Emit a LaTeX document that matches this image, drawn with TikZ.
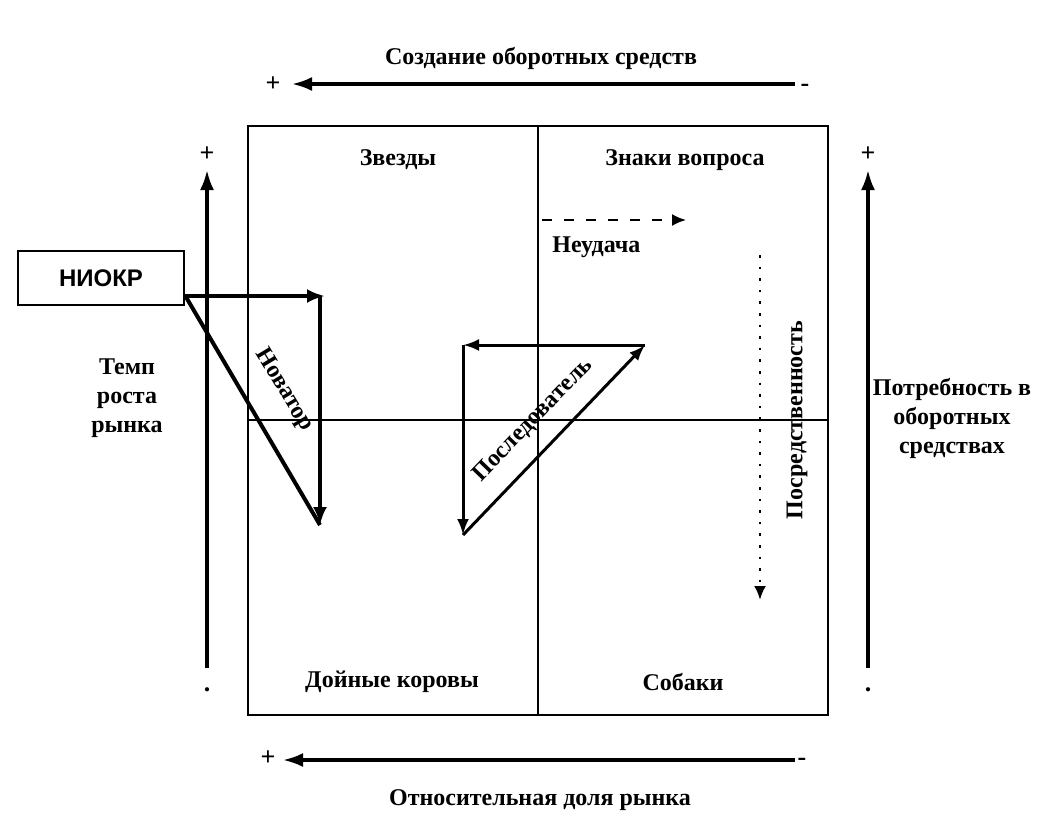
\documentclass[tikz,border=0pt]{standalone}
\usepackage{fontspec}
\setmainfont{Liberation Serif}
\newfontfamily\boxfont{Liberation Sans}
\usetikzlibrary{arrows.meta}

\tikzset{
  lbl/.style={inner sep=0pt, align=center},
  sign/.style={inner sep=0pt, font=\bfseries\fontsize{13}{13}\selectfont},
  axis/.style={line width=1.6pt, -{Latex[length=10pt,width=7pt]}},
  route/.style={line width=2pt, -{Latex[length=9pt,width=7pt]}},
}

\begin{document}
\begin{tikzpicture}[x=0.5pt, y=-0.5pt, font=\bfseries\fontsize{12}{14.5}\selectfont]
    \useasboundingbox (0,0) rectangle (1058,826);

    % Matrix frame and quadrant dividers
    \draw[line width=1.4pt] (248,126) rectangle (828,715);
    \coordinate (vtop) at (538,126);
    \coordinate (vbot) at (538,715);
    \coordinate (hleft) at (248,420);
    \coordinate (hright) at (828,420);
    \draw[line width=1.4pt] (vtop) -- (vbot);
    \draw[line width=1.4pt] (hleft) -- (hright);

    % Quadrant names
    \node[lbl] (stars) at (398,160) {Звезды};
    \node[lbl] (questions) at (685,160) {Знаки вопроса};
    \node[lbl] (cows) at (392,682) {Дойные коровы};
    \node[lbl] (dogs) at (683,682) {Собаки};

    % Top axis
    \coordinate (topR) at (795,84);
    \coordinate (topL) at (292,84);
    \draw[axis] (topR) -- (topL);
    \node[sign] (topplus) at (273,84) {+};
    \node[sign] (topminus) at (805,88) {-};
    \node[lbl] (toptext) at (541,58) {Создание оборотных средств};

    % Bottom axis
    \coordinate (botR) at (795,760);
    \coordinate (botL) at (283,760);
    \draw[axis] (botR) -- (botL);
    \node[sign] (botplus) at (268,758) {+};
    \node[sign] (botminus) at (802,762) {-};
    \node[lbl] (bottext) at (540,800) {Относительная доля рынка};

    % Left axis
    \coordinate (leftB) at (207,668);
    \coordinate (leftT) at (207,170);
    \draw[axis] (leftB) -- (leftT);
    \node[sign] (leftplus) at (207,154) {+};
    \node[sign] (leftdot) at (207,690) {.};
    \node[lbl] (growth) at (127,398) {Темп\\роста\\рынка};

    % Right axis
    \coordinate (rightB) at (868,668);
    \coordinate (rightT) at (868,170);
    \draw[axis] (rightB) -- (rightT);
    \node[sign] (rightplus) at (868,154) {+};
    \node[sign] (rightdot) at (868,690) {.};
    \node[lbl] (need) at (952,418) {Потребность в\\оборотных\\средствах};

    % R&D box and innovator route
    \node[draw, line width=1.4pt, minimum width=83pt, minimum height=27pt,
          font=\boxfont\bfseries\fontsize{12}{14}\selectfont] (niokr) at (101,278) {НИОКР};
    \coordinate (inA) at (325,296);
    \coordinate (inB) at (320,525);
    \draw[route] (niokr.east |- inA) -- (inA);
    \draw[route] (320,296) -- (inB);
    \draw[line width=2pt] (niokr.east |- inA) -- (inB);
    \node[lbl, rotate=-59] (innovator) at (284,390) {Новатор};

    % Follower route
    \coordinate (fA) at (463,345);
    \coordinate (fB) at (645,345);
    \coordinate (fC) at (463,535);
    \draw[line width=1.5pt, -{Latex[length=8pt,width=6pt]}] (fB) -- (fA);
    \draw[line width=1.5pt, -{Latex[length=8pt,width=6pt]}] (fA) -- (fC);
    \draw[line width=1.5pt, -{Latex[length=8pt,width=6pt]}] (fC) -- (fB);
    \node[lbl, rotate=46] (follower) at (533,420) {Последователь};

    % Failure and mediocrity
    \coordinate (failA) at (542,220);
    \coordinate (failB) at (686,220);
    \draw[line width=1pt, dash pattern=on 5pt off 6pt, -{Latex[length=7pt,width=6pt]}] (failA) -- (failB);
    \node[lbl, anchor=west] (failure) at (552,247) {Неудача};
    \coordinate (medA) at (760,255);
    \coordinate (medB) at (760,600);
    \draw[line width=1.3pt, dash pattern=on 1.3pt off 4.5pt, -{Latex[length=7pt,width=6pt]}] (medA) -- (medB);
    \node[lbl, rotate=90] (mediocrity) at (797,420) {Посредственность};
\end{tikzpicture}
\end{document}
